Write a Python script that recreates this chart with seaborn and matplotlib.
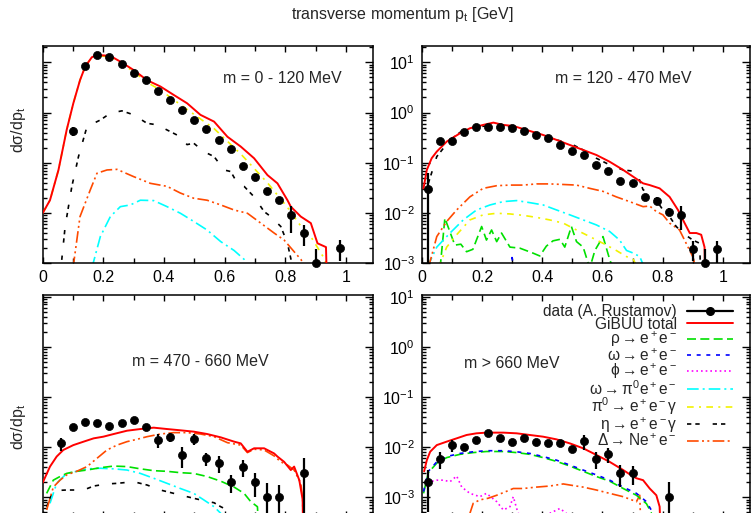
import matplotlib
matplotlib.use("Agg")
import matplotlib.pyplot as plt
import seaborn as sns
from matplotlib.lines import Line2D
from matplotlib.ticker import LogLocator, MultipleLocator, FuncFormatter, NullFormatter

# ---------------------------------------------------------------- data ----
# transverse momentum grid of the measured points [GeV]
TL_DATA_PT = [0.10, 0.14, 0.18, 0.22, 0.26, 0.30, 0.34, 0.38, 0.42, 0.46, 0.50,
              0.54, 0.58, 0.62, 0.66, 0.70, 0.74, 0.78, 0.82, 0.86, 0.90, 0.98]
TL_DATA = [0.43, 8.6, 14.2, 12.6, 9.1, 6.2, 4.45, 2.73, 1.78, 1.12, 0.71,
           0.46, 0.29, 0.19, 0.086, 0.053, 0.0275, 0.018, 0.0090, 0.0040, 0.0010, 0.0020]
TL_ERR = [0.09, 0.5, 0.7, 0.6, 0.45, 0.3, 0.2, 0.13, 0.08, 0.05, 0.03,
          0.02, 0.013, 0.009, 0.005, 0.004, 0.003, 0.003, 0.005, 0.0018, 0.0009, 0.0009]

TL_TOTAL_PT = [0.0, 0.024, 0.052, 0.079, 0.101, 0.123, 0.14, 0.162, 0.179, 0.223, 0.256,
               0.30, 0.344, 0.388, 0.432, 0.476, 0.52, 0.565, 0.609, 0.653, 0.697, 0.741,
               0.774, 0.807, 0.818, 0.851, 0.884, 0.906, 0.934, 0.944]
TL_TOTAL = [0.010, 0.018, 0.072, 0.45, 1.53, 4.4, 8.2, 12.6, 14.0, 13.4, 10.3,
            7.0, 4.4, 3.3, 2.24, 1.53, 0.90, 0.66, 0.33, 0.21, 0.123, 0.057,
            0.039, 0.018, 0.0134, 0.0085, 0.0063, 0.0025, 0.0021, 1e-5]
TL_PI0_PT = [0.0, 0.024, 0.052, 0.079, 0.101, 0.123, 0.14, 0.162, 0.179, 0.223, 0.256,
             0.30, 0.344, 0.388, 0.476, 0.565, 0.653, 0.741, 0.807, 0.851, 0.884, 0.93, 0.95]
TL_PI0 = [0.010, 0.018, 0.072, 0.45, 1.53, 4.4, 8.2, 12.6, 13.6, 12.8, 9.8,
          6.5, 4.0, 2.8, 1.15, 0.48, 0.15, 0.040, 0.013, 0.0055, 0.0034, 0.0012, 5e-4]
TL_ETA_PT = [0.06, 0.074, 0.096, 0.118, 0.146, 0.19, 0.223, 0.261, 0.30, 0.344, 0.377,
             0.41, 0.454, 0.476, 0.498, 0.531, 0.565, 0.598, 0.62, 0.642, 0.664, 0.697,
             0.73, 0.752, 0.785, 0.807, 0.825]
TL_ETA = [8e-4, 0.0054, 0.0336, 0.133, 0.525, 0.71, 0.97, 1.08, 0.90, 0.61, 0.57,
          0.45, 0.33, 0.23, 0.245, 0.167, 0.133, 0.072, 0.067, 0.039, 0.034, 0.021,
          0.0107, 0.0085, 0.0054, 0.0025, 8e-4]
TL_DELTA_PT = [0.10, 0.123, 0.157, 0.179, 0.212, 0.245, 0.30, 0.355, 0.41, 0.454, 0.498,
               0.542, 0.587, 0.631, 0.675, 0.719, 0.763, 0.796, 0.829, 0.851, 0.87]
TL_DELTA = [8e-4, 0.0085, 0.029, 0.062, 0.072, 0.074, 0.053, 0.039, 0.034, 0.025, 0.0197,
            0.018, 0.0145, 0.0115, 0.0099, 0.0063, 0.0040, 0.0029, 0.0017, 0.0012, 8e-4]
TL_OMDAL_PT = [0.162, 0.19, 0.223, 0.256, 0.289, 0.322, 0.366, 0.41, 0.454, 0.498,
               0.542, 0.587, 0.631, 0.664, 0.68]
TL_OMDAL = [8e-4, 0.0034, 0.0085, 0.0134, 0.0145, 0.018, 0.0177, 0.0134, 0.0099, 0.0068,
            0.0046, 0.0027, 0.0018, 0.0012, 8e-4]

TR_DATA_PT = [0.02, 0.06, 0.10, 0.14, 0.18, 0.22, 0.26, 0.30, 0.34, 0.38, 0.42, 0.46, 0.50,
              0.54, 0.58, 0.62, 0.66, 0.70, 0.74, 0.78, 0.82, 0.86, 0.90, 0.94, 0.98]
TR_DATA = [0.030, 0.272, 0.275, 0.416, 0.525, 0.525, 0.525, 0.486, 0.436, 0.363, 0.312,
           0.23, 0.175, 0.143, 0.092, 0.070, 0.0435, 0.0398, 0.0206, 0.0177, 0.0107,
           0.0090, 0.00193, 0.0010, 0.00193]
TR_ERR = [0.032, 0.03, 0.04, 0.03, 0.03, 0.03, 0.03, 0.03, 0.025, 0.02, 0.02,
          0.015, 0.012, 0.01, 0.007, 0.006, 0.004, 0.004, 0.002, 0.003, 0.002,
          0.0045, 0.0008, 0.0009, 0.0009]
TR_TOTAL_PT = [0.006, 0.017, 0.033, 0.05, 0.083, 0.127, 0.16, 0.204, 0.238, 0.271, 0.304,
               0.348, 0.403, 0.448, 0.492, 0.536, 0.58, 0.624, 0.669, 0.702, 0.735, 0.757,
               0.79, 0.823, 0.851, 0.873, 0.89, 0.912, 0.928, 0.939, 0.947]
TR_TOTAL = [0.031, 0.072, 0.123, 0.167, 0.264, 0.386, 0.486, 0.567, 0.63, 0.567, 0.54,
            0.45, 0.358, 0.285, 0.226, 0.18, 0.143, 0.105, 0.072, 0.053, 0.039, 0.036,
            0.031, 0.021, 0.0115, 0.0063, 0.0040, 0.0040, 0.0037, 0.0021, 1e-5]
TR_ETA_PT = [0.022, 0.05, 0.094, 0.138, 0.193, 0.249, 0.304, 0.359, 0.403, 0.448, 0.492,
             0.536, 0.58, 0.624, 0.669, 0.713, 0.735, 0.757, 0.779, 0.801, 0.823, 0.845,
             0.867, 0.90, 0.923, 0.934]
TR_ETA = [0.039, 0.133, 0.285, 0.45, 0.525, 0.567, 0.51, 0.417, 0.342, 0.285, 0.245,
          0.18, 0.123, 0.091, 0.072, 0.067, 0.029, 0.025, 0.018, 0.0115, 0.0085, 0.0054,
          0.0040, 0.0029, 0.0025, 1e-5]
TR_DELTA_PT = [0.022, 0.05, 0.083, 0.116, 0.16, 0.204, 0.249, 0.293, 0.337, 0.381, 0.425,
               0.47, 0.514, 0.558, 0.602, 0.646, 0.69, 0.735, 0.757, 0.779, 0.801, 0.823,
               0.856, 0.878, 0.90, 0.91]
TR_DELTA = [8e-4, 0.0034, 0.0068, 0.0115, 0.021, 0.031, 0.035, 0.036, 0.036, 0.038, 0.038,
            0.037, 0.036, 0.031, 0.027, 0.021, 0.0169, 0.0134, 0.0138, 0.0107, 0.0092,
            0.0063, 0.0046, 0.0025, 0.00135, 8e-4]
TR_OMDAL_PT = [0.017, 0.05, 0.094, 0.138, 0.182, 0.227, 0.271, 0.315, 0.359, 0.403, 0.448,
               0.492, 0.536, 0.58, 0.624, 0.657, 0.68, 0.702, 0.724, 0.74]
TR_OMDAL = [8e-4, 0.0021, 0.0040, 0.0073, 0.0115, 0.0145, 0.0169, 0.0177, 0.0161, 0.0145,
            0.0115, 0.0092, 0.0073, 0.0058, 0.0043, 0.0029, 0.0018, 0.0016, 0.00136, 8e-4]
TR_PI0_PT = [0.055, 0.083, 0.116, 0.16, 0.204, 0.249, 0.293, 0.337, 0.381, 0.425, 0.47,
             0.514, 0.558, 0.602, 0.646, 0.68, 0.702, 0.718]
TR_PI0 = [8e-4, 0.0021, 0.0037, 0.0073, 0.0092, 0.0099, 0.0096, 0.0090, 0.0082, 0.0073,
          0.0063, 0.0046, 0.0034, 0.0025, 0.0018, 0.00136, 0.0012, 8e-4]
TR_RHO_PT = [0.061, 0.077, 0.11, 0.13, 0.149, 0.17, 0.199, 0.215, 0.232, 0.249, 0.265,
             0.293, 0.326, 0.369, 0.392, 0.414, 0.436, 0.459, 0.475, 0.497, 0.514, 0.536,
             0.558, 0.575, 0.602, 0.624, 0.635]
TR_RHO = [8e-4, 0.0079, 0.0023, 0.0024, 0.0017, 0.0019, 0.0054, 0.0029, 0.0046, 0.0027,
          0.0040, 0.0021, 0.0020, 0.0016, 0.0014, 0.0022, 0.0028, 0.0030, 0.0021, 0.0054,
          0.0027, 0.0021, 8e-4, 0.0018, 0.0034, 0.0012, 8e-4]
TR_OMEGA_PT = [0.296, 0.30, 0.304]
TR_OMEGA = [8e-4, 0.0013, 8e-4]

BL_DATA_PT = [0.06, 0.10, 0.14, 0.18, 0.22, 0.26, 0.30, 0.34, 0.38, 0.42, 0.46, 0.50,
              0.54, 0.58, 0.62, 0.66, 0.70, 0.74, 0.78, 0.86]
BL_DATA = [0.0119, 0.0257, 0.0313, 0.0299, 0.0264, 0.0308, 0.0343, 0.0252, 0.0139, 0.0162,
           0.00698, 0.0148, 0.0060, 0.0049, 0.0020, 0.0040, 0.0020, 0.0010, 0.0010, 0.0030]
BL_ERR = [0.0035, 0.003, 0.003, 0.003, 0.003, 0.003, 0.003, 0.003, 0.0044, 0.0033,
          0.0032, 0.0035, 0.0018, 0.0018, 0.0008, 0.0015, 0.001, 0.00095, 0.00076, 0.003]
BL_TOTAL_PT = [0.0, 0.024, 0.046, 0.068, 0.101, 0.135, 0.168, 0.20, 0.234, 0.278, 0.322,
               0.366, 0.41, 0.454, 0.498, 0.542, 0.587, 0.631, 0.653, 0.675, 0.697, 0.73,
               0.763, 0.774, 0.796, 0.818, 0.829, 0.846, 0.857, 0.862]
BL_TOTAL = [0.00196, 0.0041, 0.0065, 0.0088, 0.011, 0.0129, 0.015, 0.0162, 0.0183, 0.0213,
            0.023, 0.0245, 0.023, 0.0217, 0.0204, 0.0183, 0.0157, 0.0129, 0.0119, 0.0081,
            0.0095, 0.0095, 0.0075, 0.0065, 0.0051, 0.0035, 0.0041, 0.0022, 0.0009, 1e-5]
BL_DELTA_PT = [0.013, 0.035, 0.057, 0.079, 0.112, 0.146, 0.179, 0.212, 0.245, 0.278, 0.31,
               0.344, 0.388, 0.432, 0.476, 0.52, 0.565, 0.609, 0.653, 0.675, 0.697, 0.73,
               0.763, 0.785, 0.807, 0.829, 0.851, 0.857, 0.862]
BL_DELTA = [0.00056, 0.0016, 0.0022, 0.0028, 0.0033, 0.0041, 0.006, 0.0088, 0.011, 0.0129,
            0.0143, 0.0162, 0.0183, 0.0195, 0.0195, 0.0183, 0.0162, 0.0123, 0.011, 0.0078,
            0.0091, 0.0088, 0.0067, 0.0051, 0.0044, 0.0035, 0.0019, 0.0009, 1e-5]
BL_RHO_PT = [0.013, 0.035, 0.057, 0.079, 0.112, 0.146, 0.19, 0.234, 0.278, 0.322, 0.366,
             0.41, 0.454, 0.498, 0.542, 0.587, 0.631, 0.664, 0.686, 0.708, 0.724]
BL_RHO = [0.0012, 0.0022, 0.0026, 0.0030, 0.0033, 0.0035, 0.0039, 0.0042, 0.0041, 0.0037,
          0.0034, 0.0033, 0.0031, 0.0030, 0.0026, 0.0021, 0.0016, 0.0012, 0.00082, 0.00065, 1e-5]
BL_OMDAL_PT = [0.024, 0.046, 0.079, 0.112, 0.146, 0.19, 0.234, 0.278, 0.322, 0.366, 0.41,
               0.454, 0.498, 0.531, 0.565, 0.587, 0.60]
BL_OMDAL = [0.00076, 0.0019, 0.0030, 0.0033, 0.0037, 0.0038, 0.0037, 0.0035, 0.0030, 0.0024,
            0.0019, 0.0015, 0.0012, 0.00089, 0.00065, 0.00048, 1e-5]
BL_ETA_PT = [0.013, 0.035, 0.079, 0.135, 0.168, 0.212, 0.245, 0.30, 0.344, 0.388, 0.432,
             0.476, 0.52, 0.565, 0.587, 0.609, 0.62]
BL_ETA = [0.00065, 0.00136, 0.0014, 0.0014, 0.00168, 0.00185, 0.0019, 0.00205, 0.00176,
          0.0014, 0.0012, 0.00103, 0.00089, 0.00078, 0.00065, 0.00056, 1e-5]

BR_DATA_PT = [0.02, 0.06, 0.10, 0.14, 0.18, 0.22, 0.26, 0.30, 0.34, 0.38, 0.42, 0.46,
              0.50, 0.54, 0.58, 0.62, 0.66, 0.70, 0.82]
BR_DATA = [0.0020, 0.0059, 0.0112, 0.0100, 0.0139, 0.0189, 0.0152, 0.0127, 0.0150, 0.0127,
           0.0119, 0.0119, 0.0091, 0.0131, 0.0059, 0.0072, 0.0030, 0.0030, 0.0010]
BR_ERR = [0.0015, 0.0022, 0.003, 0.0015, 0.002, 0.002, 0.002, 0.002, 0.002, 0.002,
          0.002, 0.002, 0.0015, 0.0044, 0.0022, 0.0023, 0.0014, 0.0012, 0.001]
BR_TOTAL_PT = [0.008, 0.017, 0.028, 0.05, 0.083, 0.116, 0.149, 0.182, 0.215, 0.271, 0.315,
               0.359, 0.403, 0.448, 0.492, 0.536, 0.58, 0.624, 0.669, 0.702, 0.713, 0.735,
               0.757, 0.779, 0.79, 0.801]
BR_TOTAL = [0.0033, 0.0055, 0.0081, 0.011, 0.0129, 0.015, 0.0175, 0.0189, 0.0195, 0.0195,
            0.0189, 0.0175, 0.0162, 0.0143, 0.0119, 0.0095, 0.007, 0.0051, 0.0035, 0.0026,
            0.0024, 0.0022, 0.0015, 0.0011, 0.00065, 1e-5]
BR_VM_PT = [0.006, 0.022, 0.05, 0.083, 0.127, 0.171, 0.215, 0.271, 0.315, 0.359, 0.403,
            0.448, 0.492, 0.536, 0.58, 0.624, 0.669, 0.713, 0.746, 0.762, 0.773]
BR_OMEGA = [0.0013, 0.0033, 0.0051, 0.0065, 0.0075, 0.0081, 0.0085, 0.0085, 0.0081, 0.0075,
            0.0065, 0.0055, 0.0044, 0.0035, 0.0028, 0.0022, 0.0016, 0.0012, 0.00082, 0.00056, 1e-5]
BR_RHO = [0.0012, 0.0031, 0.0048, 0.0062, 0.0072, 0.0078, 0.0082, 0.0082, 0.0078, 0.0072,
          0.0062, 0.0052, 0.0042, 0.0033, 0.0026, 0.0021, 0.0015, 0.0011, 0.00075, 0.0005, 1e-5]
BR_PHI_PT = [0.011, 0.028, 0.05, 0.072, 0.094, 0.116, 0.133, 0.16, 0.193, 0.215, 0.249,
             0.271, 0.293, 0.304, 0.32, 0.348, 0.381, 0.425, 0.459, 0.48, 0.503]
BR_PHI = [0.0016, 0.00205, 0.0022, 0.0022, 0.00205, 0.00266, 0.0016, 0.0012, 0.00103, 0.0012,
          0.00082, 0.00056, 0.00065, 0.00103, 0.00048, 0.0004, 0.00044, 0.00048, 0.0006,
          0.00048, 1e-5]
BR_DELTA_PT = [0.149, 0.171, 0.193, 0.221, 0.249, 0.271, 0.304, 0.337, 0.381, 0.425, 0.47,
               0.492, 0.536, 0.58, 0.624, 0.669, 0.713, 0.724, 0.735]
BR_DELTA = [3e-4, 0.00076, 0.00089, 0.00096, 0.0011, 0.00124, 0.0015, 0.0015, 0.0016,
            0.00168, 0.00185, 0.00176, 0.0016, 0.0014, 0.0012, 0.00103, 0.00082, 0.0011, 1e-5]

PANEL_LABELS = ["m = 0 - 120 MeV", "m = 120 - 470 MeV", "m = 470 - 660 MeV", "m > 660 MeV"]
X_TICKS = [0, 0.2, 0.4, 0.6, 0.8, 1.0]

# ---------------------------------------------------------------- style ---
sns.set_theme(style="ticks")
plt.rcParams.update({
    "font.family": ["Liberation Sans", "DejaVu Sans"],
    "mathtext.fontset": "custom",
    "mathtext.rm": "Liberation Sans",
    "mathtext.it": "Liberation Sans:italic",
    "mathtext.default": "regular",
    "mathtext.fallback": "stixsans",
    "axes.linewidth": 1.1,
    "axes.edgecolor": "black",
    "font.size": 11,
})

CHANNELS = {
    "total": dict(color="#ff0000", lw=1.4, ls="-",
                  label="GiBUU total"),
    "rho": dict(color="#00e000", lw=1.2, ls=(0, (5.4, 2.6)),
                label=r"$\rho \rightarrow e^+e^-$"),
    "omega": dict(color="#0000ff", lw=1.2, ls=(0, (2.4, 3.4)),
                  label=r"$\omega \rightarrow e^+e^-$"),
    "phi": dict(color="#ff00ff", lw=1.2, ls=(0, (1.0, 1.8)),
                label=r"$\phi \rightarrow e^+e^-$"),
    "omdal": dict(color="#00ffff", lw=1.2, ls=(0, (7.0, 2.4, 1.2, 2.4)),
                  label=r"$\omega \rightarrow \pi^0e^+e^-$"),
    "pi0": dict(color="#f2f200", lw=1.2, ls=(0, (4.0, 3.2, 1.2, 3.2)),
                label=r"$\pi^0 \rightarrow e^+e^-\gamma$"),
    "eta": dict(color="#000000", lw=1.2, ls=(0, (2.6, 2.4, 2.6, 7.8)),
                label=r"$\eta \rightarrow e^+e^-\gamma$"),
    "delta": dict(color="#ff4a00", lw=1.2, ls=(0, (7.0, 2.0, 1.2, 2.0, 1.2, 2.0)),
                  label=r"$\Delta \rightarrow Ne^+e^-$"),
}

W, H = 752, 513
fig = plt.figure(figsize=(W / 100, H / 100), dpi=100)

TOP_YLIM = (1e-3, 10 ** 1.324)
BOT_YLIM = (10 ** -3.4, 10 ** 1.034)


def px_axes(x0, x1, y_top, y_bot):
    return fig.add_axes([x0 / W, 1 - y_bot / H, (x1 - x0) / W, (y_bot - y_top) / H])


ax_tl = px_axes(42.7, 373.3, 46, 263.3)
ax_tr = px_axes(421.7, 750, 46, 263.3)
ax_bl = px_axes(42.7, 373.3, 295, 517.4)
ax_br = px_axes(421.7, 750, 295, 517.4)


def setup(ax, ylim, xlabels, ylabels):
    ax.set_yscale("log")
    ax.set_xlim(0, 1.09)
    ax.set_ylim(*ylim)
    ax.set_xticks(X_TICKS)
    ax.xaxis.set_minor_locator(MultipleLocator(0.1))
    ax.xaxis.set_major_formatter(FuncFormatter(lambda v, p: f"{v:g}"))
    ax.yaxis.set_major_locator(LogLocator(base=10, numticks=12))
    ax.yaxis.set_minor_locator(LogLocator(base=10, subs=range(2, 10), numticks=12))
    ax.yaxis.set_minor_formatter(NullFormatter())
    ax.tick_params(which="both", direction="in", top=True, right=True, color="black",
                   width=1.0, labelsize=11.5, labelcolor="black")
    ax.tick_params(axis="x", which="major", length=4, pad=5)
    ax.tick_params(axis="x", which="minor", length=3.5)
    ax.tick_params(axis="y", which="major", length=5.5, pad=5)
    ax.tick_params(axis="y", which="minor", length=3.2)
    if not xlabels:
        ax.tick_params(axis="x", labelbottom=False)
    if not ylabels:
        ax.tick_params(axis="y", labelleft=False)
    ax.set_xlabel("")
    ax.set_ylabel("")
    for s in ax.spines.values():
        s.set_linewidth(1.1)


def curve(ax, pt, val, key):
    st = CHANNELS[key]
    sns.lineplot(x=pt, y=val, ax=ax, color=st["color"], linewidth=st["lw"],
                 linestyle=st["ls"], estimator=None, sort=False, legend=False,
                 zorder=3 if key == "total" else 2)


def data(ax, pt, val, err):
    ax.errorbar(pt, val, yerr=err, fmt="none", ecolor="black", elinewidth=1.6,
                capsize=0, zorder=4)
    sns.scatterplot(x=pt, y=val, ax=ax, color="black", s=34, edgecolor="black",
                    linewidth=0.5, zorder=5, clip_on=False, legend=False)


# top left: m = 0 - 120 MeV
curve(ax_tl, TL_OMDAL_PT, TL_OMDAL, "omdal")
curve(ax_tl, TL_DELTA_PT, TL_DELTA, "delta")
curve(ax_tl, TL_ETA_PT, TL_ETA, "eta")
curve(ax_tl, TL_TOTAL_PT, TL_TOTAL, "total")
curve(ax_tl, TL_PI0_PT, TL_PI0, "pi0")
data(ax_tl, TL_DATA_PT, TL_DATA, TL_ERR)

# top right: m = 120 - 470 MeV
curve(ax_tr, TR_RHO_PT, TR_RHO, "rho")
curve(ax_tr, TR_OMEGA_PT, TR_OMEGA, "omega")
curve(ax_tr, TR_PI0_PT, TR_PI0, "pi0")
curve(ax_tr, TR_OMDAL_PT, TR_OMDAL, "omdal")
curve(ax_tr, TR_DELTA_PT, TR_DELTA, "delta")
curve(ax_tr, TR_ETA_PT, TR_ETA, "eta")
curve(ax_tr, TR_TOTAL_PT, TR_TOTAL, "total")
data(ax_tr, TR_DATA_PT, TR_DATA, TR_ERR)

# bottom left: m = 470 - 660 MeV
curve(ax_bl, BL_ETA_PT, BL_ETA, "eta")
curve(ax_bl, BL_OMDAL_PT, BL_OMDAL, "omdal")
curve(ax_bl, BL_RHO_PT, BL_RHO, "rho")
curve(ax_bl, BL_DELTA_PT, BL_DELTA, "delta")
curve(ax_bl, BL_TOTAL_PT, BL_TOTAL, "total")
data(ax_bl, BL_DATA_PT, BL_DATA, BL_ERR)

# bottom right: m > 660 MeV
curve(ax_br, BR_PHI_PT, BR_PHI, "phi")
curve(ax_br, BR_DELTA_PT, BR_DELTA, "delta")
curve(ax_br, BR_VM_PT, BR_RHO, "rho")
curve(ax_br, BR_VM_PT, BR_OMEGA, "omega")
curve(ax_br, BR_TOTAL_PT, BR_TOTAL, "total")
data(ax_br, BR_DATA_PT, BR_DATA, BR_ERR)

setup(ax_tl, TOP_YLIM, True, False)
setup(ax_tr, TOP_YLIM, True, True)
setup(ax_bl, BOT_YLIM, False, False)
setup(ax_br, BOT_YLIM, False, True)

# panel captions
for (x, y), text in zip([(282, 79), (623, 79), (200, 362), (512, 363)], PANEL_LABELS):
    fig.text(x / W, 1 - y / H, text, ha="center", va="center", fontsize=11.5)

fig.text(402 / W, 1 - 15 / H, r"transverse momentum p$_t$ [GeV]",
         ha="center", va="center", fontsize=11.5)
for y in (130, 427):
    fig.text(19 / W, 1 - y / H, r"d$\sigma$/dp$_t$", rotation=90,
             ha="center", va="center", fontsize=11.5)

# legend: label on the left, sample on the right
handles = [Line2D([0], [0], color="black", lw=1.6, marker="o", ms=5.5,
                  label="data (A. Rustamov)")]
for key in ["total", "rho", "omega", "phi", "omdal", "pi0", "eta", "delta"]:
    st = CHANNELS[key]
    handles.append(Line2D([0], [0], color=st["color"], lw=st["lw"], ls=st["ls"],
                          label=st["label"]))
leg = ax_br.legend(handles=handles, loc="upper right",
                   bbox_to_anchor=(733 / W, 1 - 304 / H), bbox_transform=fig.transFigure,
                   frameon=False, markerfirst=False, fontsize=11.2, handlelength=2.95,
                   handletextpad=0.65, labelspacing=-0.14, borderpad=0, borderaxespad=0)
for col in leg._legend_handle_box.get_children():
    col.align = "right"

fig.savefig("out.png", dpi=100)
